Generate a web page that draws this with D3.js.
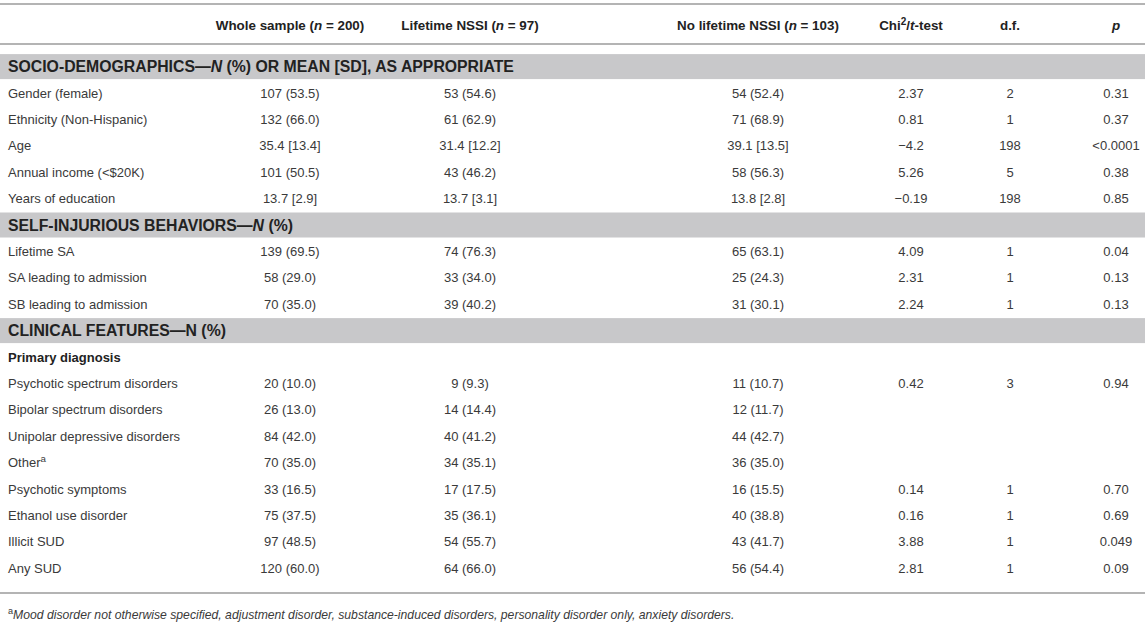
<!DOCTYPE html>
<html>
<head>
<meta charset="utf-8">
<script src="https://cdn.jsdelivr.net/npm/d3@7"></script>
<style>
  html, body { margin: 0; padding: 0; background: #fff; }
  #container { width: 1145px; height: 627px; }
  text { font-family: "Liberation Sans", Arial, Helvetica, sans-serif; }
</style>
</head>
<body>
<div id="container"></div>
<script>
// table content
const headers = ["Whole sample (*n* = 200)", "Lifetime NSSI (*n* = 97)", "No lifetime NSSI (*n* = 103)", "Chi^2^/*t*-test", "d.f.", "*p*"];
const sections = ["SOCIO-DEMOGRAPHICS\u2014*N* (%) OR MEAN [SD], AS APPROPRIATE", "SELF-INJURIOUS BEHAVIORS\u2014*N* (%)", "CLINICAL FEATURES\u2014N (%)"];
const rowLabels = ["Gender (female)", "Ethnicity (Non-Hispanic)", "Age", "Annual income (<$20K)", "Years of education",
  "Lifetime SA", "SA leading to admission", "SB leading to admission",
  "Primary diagnosis", "Psychotic spectrum disorders", "Bipolar spectrum disorders", "Unipolar depressive disorders", "Other^a^",
  "Psychotic symptoms", "Ethanol use disorder", "Illicit SUD", "Any SUD"];
const rowSection = [0, 0, 0, 0, 0, 1, 1, 1, 2, 2, 2, 2, 2, 2, 2, 2, 2];
const wholeSample = ["107 (53.5)", "132 (66.0)", "35.4 [13.4]", "101 (50.5)", "13.7 [2.9]", "139 (69.5)", "58 (29.0)", "70 (35.0)",
  "", "20 (10.0)", "26 (13.0)", "84 (42.0)", "70 (35.0)", "33 (16.5)", "75 (37.5)", "97 (48.5)", "120 (60.0)"];
const lifetimeNSSI = ["53 (54.6)", "61 (62.9)", "31.4 [12.2]", "43 (46.2)", "13.7 [3.1]", "74 (76.3)", "33 (34.0)", "39 (40.2)",
  "", "9 (9.3)", "14 (14.4)", "40 (41.2)", "34 (35.1)", "17 (17.5)", "35 (36.1)", "54 (55.7)", "64 (66.0)"];
const noLifetimeNSSI = ["54 (52.4)", "71 (68.9)", "39.1 [13.5]", "58 (56.3)", "13.8 [2.8]", "65 (63.1)", "25 (24.3)", "31 (30.1)",
  "", "11 (10.7)", "12 (11.7)", "44 (42.7)", "36 (35.0)", "16 (15.5)", "40 (38.8)", "43 (41.7)", "56 (54.4)"];
const testStat = ["2.37", "0.81", "\u22124.2", "5.26", "\u22120.19", "4.09", "2.31", "2.24",
  "", "0.42", "", "", "", "0.14", "0.16", "3.88", "2.81"];
const degFree = ["2", "1", "198", "5", "198", "1", "1", "1", "", "3", "", "", "", "1", "1", "1", "1"];
const pValues = ["0.31", "0.37", "<0.0001", "0.38", "0.85", "0.04", "0.13", "0.13",
  "", "0.94", "", "", "", "0.70", "0.69", "0.049", "0.09"];
const footnote = "^a^*Mood disorder not otherwise specified, adjustment disorder, substance-induced disorders, personality disorder only, anxiety disorders.*";

const W = 1145, H = 627;
const textColor = "#3a3a3a";
const headColor = "#222";

const container = d3.select("#container");
const svg = container.append("svg").attr("width", W).attr("height", H);

// column centres
const colKeys = ["whole", "life", "nolife", "stat", "df", "p"];
const colX = d3.scaleOrdinal().domain(colKeys).range([290, 470, 758, 911, 1010, 1116]);
const colData = [wholeSample, lifetimeNSSI, noLifetimeNSSI, testStat, degFree, pValues];

// build the slot list: section bands interleaved with rows
let slots = [];
let lastSec = -1;
rowLabels.forEach((lab, i) => {
  if (rowSection[i] !== lastSec) {
    slots.push({ type: "section", text: sections[rowSection[i]] });
    lastSec = rowSection[i];
  }
  slots.push({ type: "row", i: i });
});

const y = d3.scaleLinear().domain([0, slots.length - 1]).range([66.6, 568.2]);

// write "*italic*" and "^sup^" markup into tspans
let richText = (sel, str) => {
  const parts = str.split(/(\*[^*]+\*|\^[^^]+\^)/).filter(s => s.length);
  parts.forEach(part => {
    if (part[0] === "*") {
      sel.append("tspan").attr("font-style", "italic").text(part.slice(1, -1));
    } else if (part[0] === "^") {
      sel.append("tspan").attr("font-size", "0.75em").attr("baseline-shift", "super").text(part.slice(1, -1));
    } else {
      sel.append("tspan").text(part);
    }
  });
};

// rules
const rules = [4, 44, 593];
svg.selectAll("line.rule")
  .data(rules)
  .enter()
  .append("line")
  .attr("class", "rule")
  .attr("x1", 0)
  .attr("x2", W)
  .attr("y1", d => d)
  .attr("y2", d => d)
  .attr("stroke", "#b4b4b4")
  .attr("stroke-width", 2);

// header
colKeys.forEach((k, j) => {
  let t = svg.append("text")
    .attr("x", colX(k))
    .attr("y", 25)
    .attr("dy", "0.35em")
    .attr("text-anchor", "middle")
    .attr("font-size", 13.4)
    .attr("font-weight", "bold")
    .attr("fill", headColor);
  richText(t, headers[j]);
});

// section bands
const bandSlots = slots.map((s, k) => ({ s, k })).filter(d => d.s.type === "section");
svg.selectAll("rect.band")
  .data(bandSlots)
  .enter()
  .append("rect")
  .attr("class", "band")
  .attr("x", 0)
  .attr("width", W)
  .attr("y", d => y(d.k) - 12.5)
  .attr("height", 25)
  .attr("fill", "#c8c8ca");

bandSlots.forEach(d => {
  let t = svg.append("text")
    .attr("x", 8)
    .attr("y", y(d.k))
    .attr("dy", "0.36em")
    .attr("font-size", 15.8)
    .attr("font-weight", "bold")
    .attr("fill", headColor);
  richText(t, d.s.text);
});

// body rows
slots.forEach((s, k) => {
  if (s.type !== "row") return;
  const i = s.i;
  const isSub = rowLabels[i] === "Primary diagnosis";
  let lab = svg.append("text")
    .attr("x", 8)
    .attr("y", y(k))
    .attr("dy", "0.35em")
    .attr("font-size", 13)
    .attr("font-weight", isSub ? "bold" : "normal")
    .attr("fill", isSub ? headColor : textColor);
  richText(lab, rowLabels[i]);

  colKeys.forEach((c, j) => {
    const v = colData[j][i];
    if (!v) return;
    svg.append("text")
      .attr("x", colX(c))
      .attr("y", y(k))
      .attr("dy", "0.35em")
      .attr("text-anchor", "middle")
      .attr("font-size", 13)
      .attr("fill", textColor)
      .text(v);
  });
});

// footnote
let fn = svg.append("text")
  .attr("x", 8)
  .attr("y", 615)
  .attr("dy", "0.35em")
  .attr("font-size", 12.2)
  .attr("fill", textColor);
richText(fn, footnote);
</script>
</body>
</html>
